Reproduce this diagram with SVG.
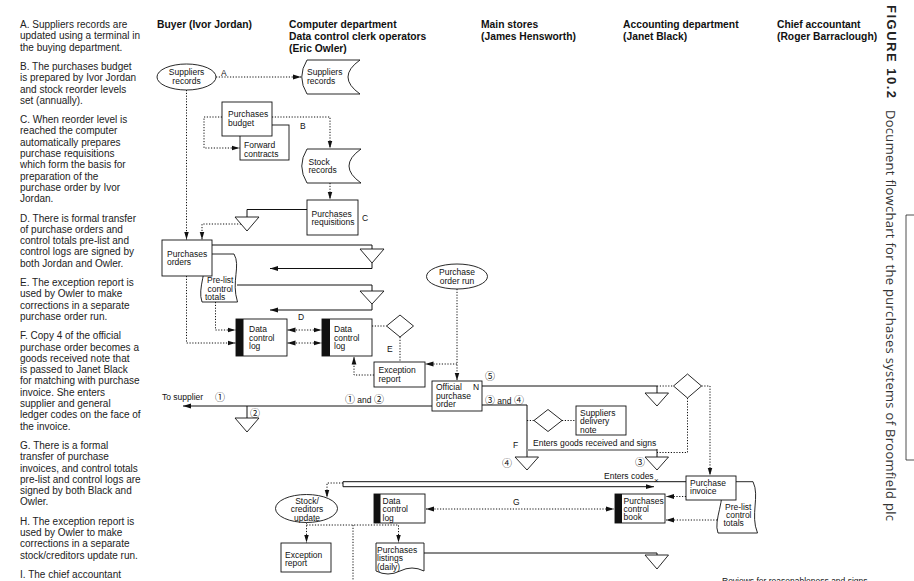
<svg xmlns="http://www.w3.org/2000/svg" width="914" height="581" viewBox="0 0 914 581">
<defs>
<style>
.t{font-family:'Liberation Sans',Arial,sans-serif;font-size:10px;fill:#222}
.h{font-family:'Liberation Sans',Arial,sans-serif;font-size:10.3px;font-weight:bold;fill:#111}
.n{font-family:'Liberation Sans','Noto Sans CJK JP',sans-serif;font-size:8.5px;fill:#111}
.c{text-anchor:middle}
.cd{font-family:'Noto Sans CJK JP','DejaVu Sans',sans-serif;font-size:10px}
.sh{fill:#fff;stroke:#111;stroke-width:0.9}
.bar{fill:#111}
.sl{fill:none;stroke:#111;stroke-width:1}
.dl{fill:none;stroke:#111;stroke-width:1;stroke-dasharray:1.2 1.6}
.ar{marker-end:url(#ah)}
.bi{marker-start:url(#ah);marker-end:url(#ah)}
</style>
<marker id="ah" viewBox="0 0 8 6" refX="8" refY="3" markerWidth="8" markerHeight="6" markerUnits="userSpaceOnUse" orient="auto-start-reverse"><path d="M0,0.6 L8,3 L0,5.4 z" fill="#111"/></marker>
</defs>
<rect width="914" height="581" fill="#fff"/>

<g id="notes" class="t">
<text x="20" y="28"><tspan x="20">A. Suppliers records are</tspan><tspan x="20" dy="11.3">updated using a terminal in</tspan><tspan x="20" dy="11.3">the buying department.</tspan></text>
<text x="20" y="69.9"><tspan x="20">B. The purchases budget</tspan><tspan x="20" dy="11.3">is prepared by Ivor Jordan</tspan><tspan x="20" dy="11.3">and stock reorder levels</tspan><tspan x="20" dy="11.3">set (annually).</tspan></text>
<text x="20" y="123.1"><tspan x="20">C. When reorder level is</tspan><tspan x="20" dy="11.3">reached the computer</tspan><tspan x="20" dy="11.3">automatically prepares</tspan><tspan x="20" dy="11.3">purchase requisitions</tspan><tspan x="20" dy="11.3">which form the basis for</tspan><tspan x="20" dy="11.3">preparation of the</tspan><tspan x="20" dy="11.3">purchase order by Ivor</tspan><tspan x="20" dy="11.3">Jordan.</tspan></text>
<text x="20" y="221.5"><tspan x="20">D. There is formal transfer</tspan><tspan x="20" dy="11.3">of purchase orders and</tspan><tspan x="20" dy="11.3">control totals pre-list and</tspan><tspan x="20" dy="11.3">control logs are signed by</tspan><tspan x="20" dy="11.3">both Jordan and Owler.</tspan></text>
<text x="20" y="286"><tspan x="20">E. The exception report is</tspan><tspan x="20" dy="11.3">used by Owler to make</tspan><tspan x="20" dy="11.3">corrections in a separate</tspan><tspan x="20" dy="11.3">purchase order run.</tspan></text>
<text x="20" y="339.2"><tspan x="20">F. Copy 4 of the official</tspan><tspan x="20" dy="11.3">purchase order becomes a</tspan><tspan x="20" dy="11.3">goods received note that</tspan><tspan x="20" dy="11.3">is passed to Janet Black</tspan><tspan x="20" dy="11.3">for matching with purchase</tspan><tspan x="20" dy="11.3">invoice. She enters</tspan><tspan x="20" dy="11.3">supplier and general</tspan><tspan x="20" dy="11.3">ledger codes on the face of</tspan><tspan x="20" dy="11.3">the invoice.</tspan></text>
<text x="20" y="448.9"><tspan x="20">G. There is a formal</tspan><tspan x="20" dy="11.3">transfer of purchase</tspan><tspan x="20" dy="11.3">invoices, and control totals</tspan><tspan x="20" dy="11.3">pre-list and control logs are</tspan><tspan x="20" dy="11.3">signed by both Black and</tspan><tspan x="20" dy="11.3">Owler.</tspan></text>
<text x="20" y="524.7"><tspan x="20">H. The exception report is</tspan><tspan x="20" dy="11.3">used by Owler to make</tspan><tspan x="20" dy="11.3">corrections in a separate</tspan><tspan x="20" dy="11.3">stock/creditors update run.</tspan></text>
<text x="20" y="577.9">I. The chief accountant</text>
</g>

<g id="headers" class="h">
<text x="157" y="28">Buyer (Ivor Jordan)</text>
<text x="289" y="28"><tspan x="289">Computer department</tspan><tspan x="289" dy="12">Data control clerk operators</tspan><tspan x="289" dy="12">(Eric Owler)</tspan></text>
<text x="481" y="28"><tspan x="481">Main stores</tspan><tspan x="481" dy="12">(James Hensworth)</tspan></text>
<text x="623" y="28"><tspan x="623">Accounting department</tspan><tspan x="623" dy="12">(Janet Black)</tspan></text>
<text x="777" y="28"><tspan x="777">Chief accountant</tspan><tspan x="777" dy="12">(Roger Barraclough)</tspan></text>
</g>

<g id="title">
<text transform="translate(886.5,5) rotate(90)" font-family="'Liberation Sans',Arial,sans-serif" font-size="13" font-weight="bold" letter-spacing="1.5" fill="#222">FIGURE 10.2</text>
<text transform="translate(886,110) rotate(90)" font-family="'Open Sans','Liberation Sans',sans-serif" font-size="13" fill="#333" textLength="411" lengthAdjust="spacing">Document flowchart for the purchases systems of Broomfield plc</text>
<path d="M914,215 H906 V460 H914" fill="none" stroke="#222" stroke-width="0.8"/>
</g>

<g id="connectors">
<path class="dl ar" d="M216,77 H301"/>
<path class="dl ar" d="M186.5,90 V239.5"/>
<path class="dl ar" d="M222,117 H204 V148 H239.5"/>
<path class="dl ar" d="M272,117 H330 V148.5"/>
<path class="dl ar" d="M330,183 V199.5"/>
<path class="sl" d="M307,209.5 H247 V217"/>
<path class="dl ar" d="M241,224 H202 V239.5"/>
<path class="sl" d="M212,245 H372 V249"/>
<path class="sl ar" d="M372,263 V268.5 H270"/>
<path class="sl" d="M237,285 H372 V291"/>
<path class="sl ar" d="M372,304 V310 H270"/>
<path class="dl ar" d="M215.5,302 V330 H235.5"/>
<path class="dl ar" d="M186.5,276 V343 H235.5"/>
<path class="dl bi" d="M287.5,330 H321.5"/>
<path class="dl bi" d="M287.5,343 H321.5"/>
<path class="dl" d="M372,326 H386.5"/>
<path class="dl" d="M400,337 V362"/>
<path class="dl ar" d="M374,375 H354 V356.5"/>
<path class="dl ar" d="M457,289 V380.5"/>
<path class="dl ar" d="M457,364 H425.5"/>
<path class="sl ar" d="M432,406 H183"/>
<path class="sl" d="M247,406 V418"/>
<path class="sl" d="M482,386 H657 V393"/>
<path class="dl" d="M657,386 H673.5"/>
<path class="dl ar" d="M701.5,386 H710 V475.5"/>
<path class="dl" d="M687.5,398 V452.5 H657"/>
<path class="sl" d="M482,405 H527 V457"/>
<path class="dl" d="M527,420.5 H534"/>
<path class="dl" d="M562,420.5 H576"/>
<path d="M527,450 H657" fill="none" stroke="#999" stroke-width="2"/>
<path class="sl" d="M657,449 V457"/>
<path class="sl ar" d="M686,481.7 H343 V486.7 H654"/>
<path class="dl ar" d="M343,483 H327 V497.5"/>
<path class="dl ar" d="M686,496.5 H666"/>
<path class="dl ar" d="M720,520 H666"/>
<path class="dl bi" d="M426,509 H614"/>
<path class="dl ar" d="M306.5,522.5 V542.5"/>
<path class="dl ar" d="M306.5,525 H398.5 V542.5"/>
<path class="dl" d="M353,525 V581"/>
<path class="sl" d="M424,553 H657 V555"/>
</g>

<g id="labels" class="n">
<text x="221" y="76">A</text>
<text x="300" y="129">B</text>
<text x="362" y="221">C</text>
<text x="298" y="320">D</text>
<text x="387" y="352">E</text>
<text x="513" y="448">F</text>
<text x="513" y="505">G</text>
<text x="162" y="399.5">To supplier</text>
<text x="215" y="400.5" class="cd">①</text>
<text x="345" y="403"><tspan class="cd">①</tspan> and <tspan class="cd">②</tspan></text>
<text x="250" y="416.5" class="cd">②</text>
<text x="485" y="380" class="cd">⑤</text>
<text x="485" y="404"><tspan class="cd">③</tspan> and <tspan class="cd">④</tspan></text>
<text x="533" y="445.5">Enters goods received and signs</text>
<text x="502" y="467" class="cd">④</text>
<text x="635" y="466" class="cd">③</text>
<text x="604" y="478.5">Enters codes</text>
<text x="654" y="483" font-size="8">×</text>
<text x="722" y="584">Reviews for reasonableness and signs</text>
</g>

<g id="ell-suppliers-records" class="n">
<ellipse class="sh" cx="186.5" cy="77" rx="29.5" ry="13"/>
<text class="c" x="186.5" y="75.3">Suppliers</text><text class="c" x="186.5" y="84">records</text>
</g>
<g id="store-suppliers-records" class="n">
<path class="sh" d="M307,60 H360 Q336,77 360,94 H307 Q296.5,77 307,60 Z"/>
<text x="307" y="75.3">Suppliers</text><text x="307" y="84">records</text>
</g>
<g id="forward-contracts" class="n">
<rect class="sh" x="240" y="125" width="49" height="35"/>
<text x="244" y="148">Forward</text><text x="244" y="156.7">contracts</text>
</g>
<g id="purchases-budget" class="n">
<rect class="sh" x="222" y="102" width="50" height="34"/>
<text x="228" y="117">Purchases</text><text x="228" y="125.5">budget</text>
</g>
<g id="store-stock-records" class="n">
<path class="sh" d="M307,149 H361 Q337,166 361,183 H307 Q296.5,166 307,149 Z"/>
<text x="308.5" y="164.5">Stock</text><text x="308.5" y="173">records</text>
</g>
<g id="purchases-requisitions" class="n">
<rect class="sh" x="307" y="200" width="51" height="35"/>
<text x="311.5" y="217.3">Purchases</text><text x="311.5" y="225.3">requisitions</text>
</g>
<g id="file-1"><polygon class="sh" points="235,217 259,217 247,231"/></g>
<g id="prelist-1" class="n">
<path class="sh" d="M204,254 H234 C241,266 231,281 237.5,302 H202 C197,288 208,270 204,254 Z"/>
<text x="207" y="283">Pre-list</text><text x="207.5" y="291.5">control</text><text x="205" y="300">totals</text>
</g>
<g id="purchases-orders" class="n">
<rect class="sh" x="162" y="240" width="50" height="36"/>
<text x="167" y="257">Purchases</text><text x="167" y="265.3">orders</text>
</g>
<g id="file-2"><polygon class="sh" points="360,249 384,249 372,263"/></g>
<g id="file-3"><polygon class="sh" points="360,291 384,291 372,304"/></g>
<g id="data-control-log-1" class="n">
<rect class="sh" x="236" y="319" width="51" height="37"/><rect class="bar" x="236" y="319" width="7.5" height="37"/>
<text x="249" y="332">Data</text><text x="249" y="340.5">control</text><text x="249" y="349">log</text>
</g>
<g id="data-control-log-2" class="n">
<rect class="sh" x="322" y="319" width="50" height="37"/><rect class="bar" x="322" y="319" width="8" height="37"/>
<text x="334" y="332">Data</text><text x="334" y="340.5">control</text><text x="334" y="349">log</text>
</g>
<g id="decision-1"><polygon class="sh" points="386.5,326 400,315 413.5,326 400,337"/></g>
<g id="exception-report-1" class="n">
<rect class="sh" x="374" y="362" width="51" height="25"/>
<text x="378.5" y="373">Exception</text><text x="378.5" y="382">report</text>
</g>
<g id="purchase-order-run" class="n">
<ellipse class="sh" cx="457" cy="276.5" rx="30.5" ry="12.5"/>
<text class="c" x="457" y="275">Purchase</text><text class="c" x="457" y="284">order run</text>
</g>
<g id="official-purchase-order" class="n">
<rect class="sh" x="432" y="381" width="50" height="30"/>
<text x="436" y="389.5">Official</text><text x="436" y="398.7">purchase</text><text x="436" y="407">order</text><text x="473" y="389.5">N</text>
</g>
<g id="file-4"><polygon class="sh" points="235,418 259,418 247,432"/></g>
<g id="file-5"><polygon class="sh" points="645,393 668.5,393 657,406"/></g>
<g id="decision-2"><polygon class="sh" points="673.5,386 687.5,374 701.5,386 687.5,398"/></g>
<g id="decision-3"><polygon class="sh" points="534,420.5 548,409.5 562,420.5 548,431.5"/></g>
<g id="suppliers-delivery-note" class="n">
<rect class="sh" x="576" y="406" width="50" height="29"/>
<text x="580" y="416">Suppliers</text><text x="580" y="424">delivery</text><text x="580" y="432.5">note</text>
</g>
<g id="file-6"><polygon class="sh" points="515,457 538.5,457 527,470"/></g>
<g id="file-7"><polygon class="sh" points="645,457 668.5,457 657,470"/></g>
<g id="prelist-2" class="n">
<path class="sh" d="M721,481.7 H753 C760,496 750,515 757.5,533 H718 C713,520 726,500 721,481.7 Z"/>
<text x="725" y="509.5">Pre-list</text><text x="726" y="518">control</text><text x="723.5" y="525.5">totals</text>
</g>
<g id="purchase-invoice" class="n">
<rect class="sh" x="686" y="476" width="50" height="24"/>
<text x="690" y="486">Purchase</text><text x="690" y="494">invoice</text>
</g>
<g id="purchases-control-book" class="n">
<rect class="sh" x="615" y="494" width="50" height="29"/><rect class="bar" x="615" y="494" width="7" height="29"/>
<text x="623.5" y="503.5">Purchases</text><text x="623.5" y="512">control</text><text x="623.5" y="520">book</text>
</g>
<g id="data-control-log-3" class="n">
<rect class="sh" x="374" y="494" width="51" height="29"/><rect class="bar" x="374" y="494" width="6.5" height="29"/>
<text x="382.5" y="504">Data</text><text x="382.5" y="512.3">control</text><text x="382.5" y="520.7">log</text>
</g>
<g id="stock-creditors-update" class="n">
<ellipse class="sh" cx="306.5" cy="508.5" rx="31" ry="14"/>
<text class="c" x="307" y="504">Stock/</text><text class="c" x="307" y="512.3">creditors</text><text class="c" x="307" y="520.7">update</text>
</g>
<g id="exception-report-2" class="n">
<rect class="sh" x="281" y="543" width="50" height="29"/>
<text x="285" y="558">Exception</text><text x="285" y="566.3">report</text>
</g>
<g id="purchases-listings" class="n">
<path class="sh" d="M376,543 H424 V571 Q412,565 400,571 T376,571 Z"/>
<text x="377" y="553">Purchases</text><text x="377" y="561.3">listings</text><text x="377" y="569.7">(daily)</text>
</g>
<g id="file-8"><polygon class="sh" points="645,555 668.5,555 657,569"/></g>
</svg>
